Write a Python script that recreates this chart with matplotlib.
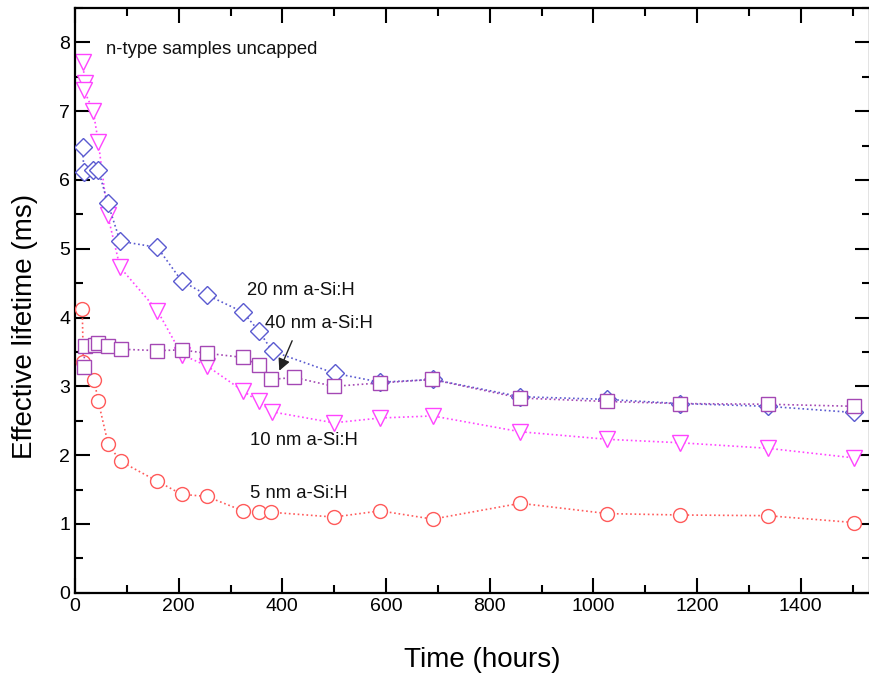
import matplotlib
matplotlib.use("Agg")
import matplotlib.pyplot as plt
from matplotlib.ticker import MultipleLocator

plt.rcParams['font.family'] = ['Liberation Sans', 'DejaVu Sans']

# Effective lifetime (ms) vs. exposure time (hours) for uncapped n-type samples
t_5nm = [14, 16, 37, 45, 64, 88, 159, 206, 254, 324, 354, 378, 499, 589, 690, 859, 1027, 1167, 1336, 1503]
tau_5nm = [4.12, 3.36, 3.09, 2.78, 2.16, 1.91, 1.62, 1.43, 1.40, 1.19, 1.17, 1.17, 1.10, 1.19, 1.07, 1.30, 1.15, 1.13, 1.12, 1.02]

t_10nm = [15, 19, 17, 35, 45, 63, 87, 159, 206, 254, 325, 354, 380, 499, 589, 690, 859, 1027, 1167, 1336, 1503]
tau_10nm = [7.71, 7.41, 7.31, 7.01, 6.55, 5.49, 4.73, 4.10, 3.46, 3.30, 2.93, 2.78, 2.63, 2.47, 2.54, 2.57, 2.34, 2.23, 2.18, 2.10, 1.96]

t_20nm = [15, 17, 35, 45, 63, 87, 159, 206, 254, 324, 355, 381, 501, 589, 690, 859, 1027, 1167, 1336, 1503]
tau_20nm = [6.48, 6.12, 6.14, 6.15, 5.67, 5.11, 5.02, 4.53, 4.33, 4.08, 3.80, 3.51, 3.19, 3.06, 3.10, 2.85, 2.81, 2.75, 2.71, 2.62]

t_40nm = [17, 19, 39, 45, 63, 88, 159, 206, 255, 325, 354, 378, 423, 499, 589, 689, 859, 1027, 1167, 1336, 1503]
tau_40nm = [3.28, 3.58, 3.60, 3.63, 3.58, 3.54, 3.52, 3.53, 3.48, 3.42, 3.31, 3.10, 3.13, 3.00, 3.05, 3.10, 2.83, 2.78, 2.75, 2.74, 2.71]

fig = plt.figure(figsize=(8.69, 6.75), dpi=100)
ax = fig.add_axes([0.0863, 0.1219, 0.9145, 0.8662])

style = dict(linestyle=':', linewidth=1.2, markerfacecolor='white', markeredgewidth=1.0)
ax.plot(t_10nm, tau_10nm, marker='v', markersize=12, color='#ff44ff', zorder=2, **style)
ax.plot(t_5nm, tau_5nm, marker='o', markersize=10, color='#ff5a5a', zorder=3, **style)
ax.plot(t_20nm, tau_20nm, marker='D', markersize=9, color='#5a5ad0', zorder=4, **style)
ax.plot(t_40nm, tau_40nm, marker='s', markersize=9.5, color='#a448b4', zorder=5, **style)

ax.set_xlim(0, 1533)
ax.set_ylim(0, 8.5)
ax.xaxis.set_major_locator(MultipleLocator(200))
ax.xaxis.set_minor_locator(MultipleLocator(100))
ax.yaxis.set_major_locator(MultipleLocator(1))
ax.yaxis.set_minor_locator(MultipleLocator(0.5))
ax.tick_params(which='both', direction='in', top=True, right=True, width=1.5, labelsize=14)
ax.tick_params(which='major', length=11)
ax.tick_params(which='minor', length=6)
for s in ax.spines.values():
    s.set_linewidth(1.6)

ax.set_xlabel('Time (hours)', fontsize=20)
ax.set_ylabel('Effective lifetime (ms)', fontsize=20)
ax.xaxis.set_label_coords(0.513, -0.093)
ax.yaxis.set_label_coords(-0.046, 0.456)

txt = dict(fontsize=13.3, va='center', ha='left', color='#111111')
ax.text(60, 7.89, 'n-type samples uncapped', **txt)
ax.text(332, 4.40, '20 nm a-Si:H', **txt)
ax.text(367, 3.92, '40 nm a-Si:H', **txt)
ax.text(338, 2.21, '10 nm a-Si:H', **txt)
ax.text(338, 1.44, '5 nm a-Si:H', **txt)
ax.annotate('', xy=(392, 3.19), xytext=(421, 3.70),
            arrowprops=dict(arrowstyle='-|>', color='#222222', lw=1.0, mutation_scale=18),
            zorder=6)

fig.savefig('out.png', dpi=100)
